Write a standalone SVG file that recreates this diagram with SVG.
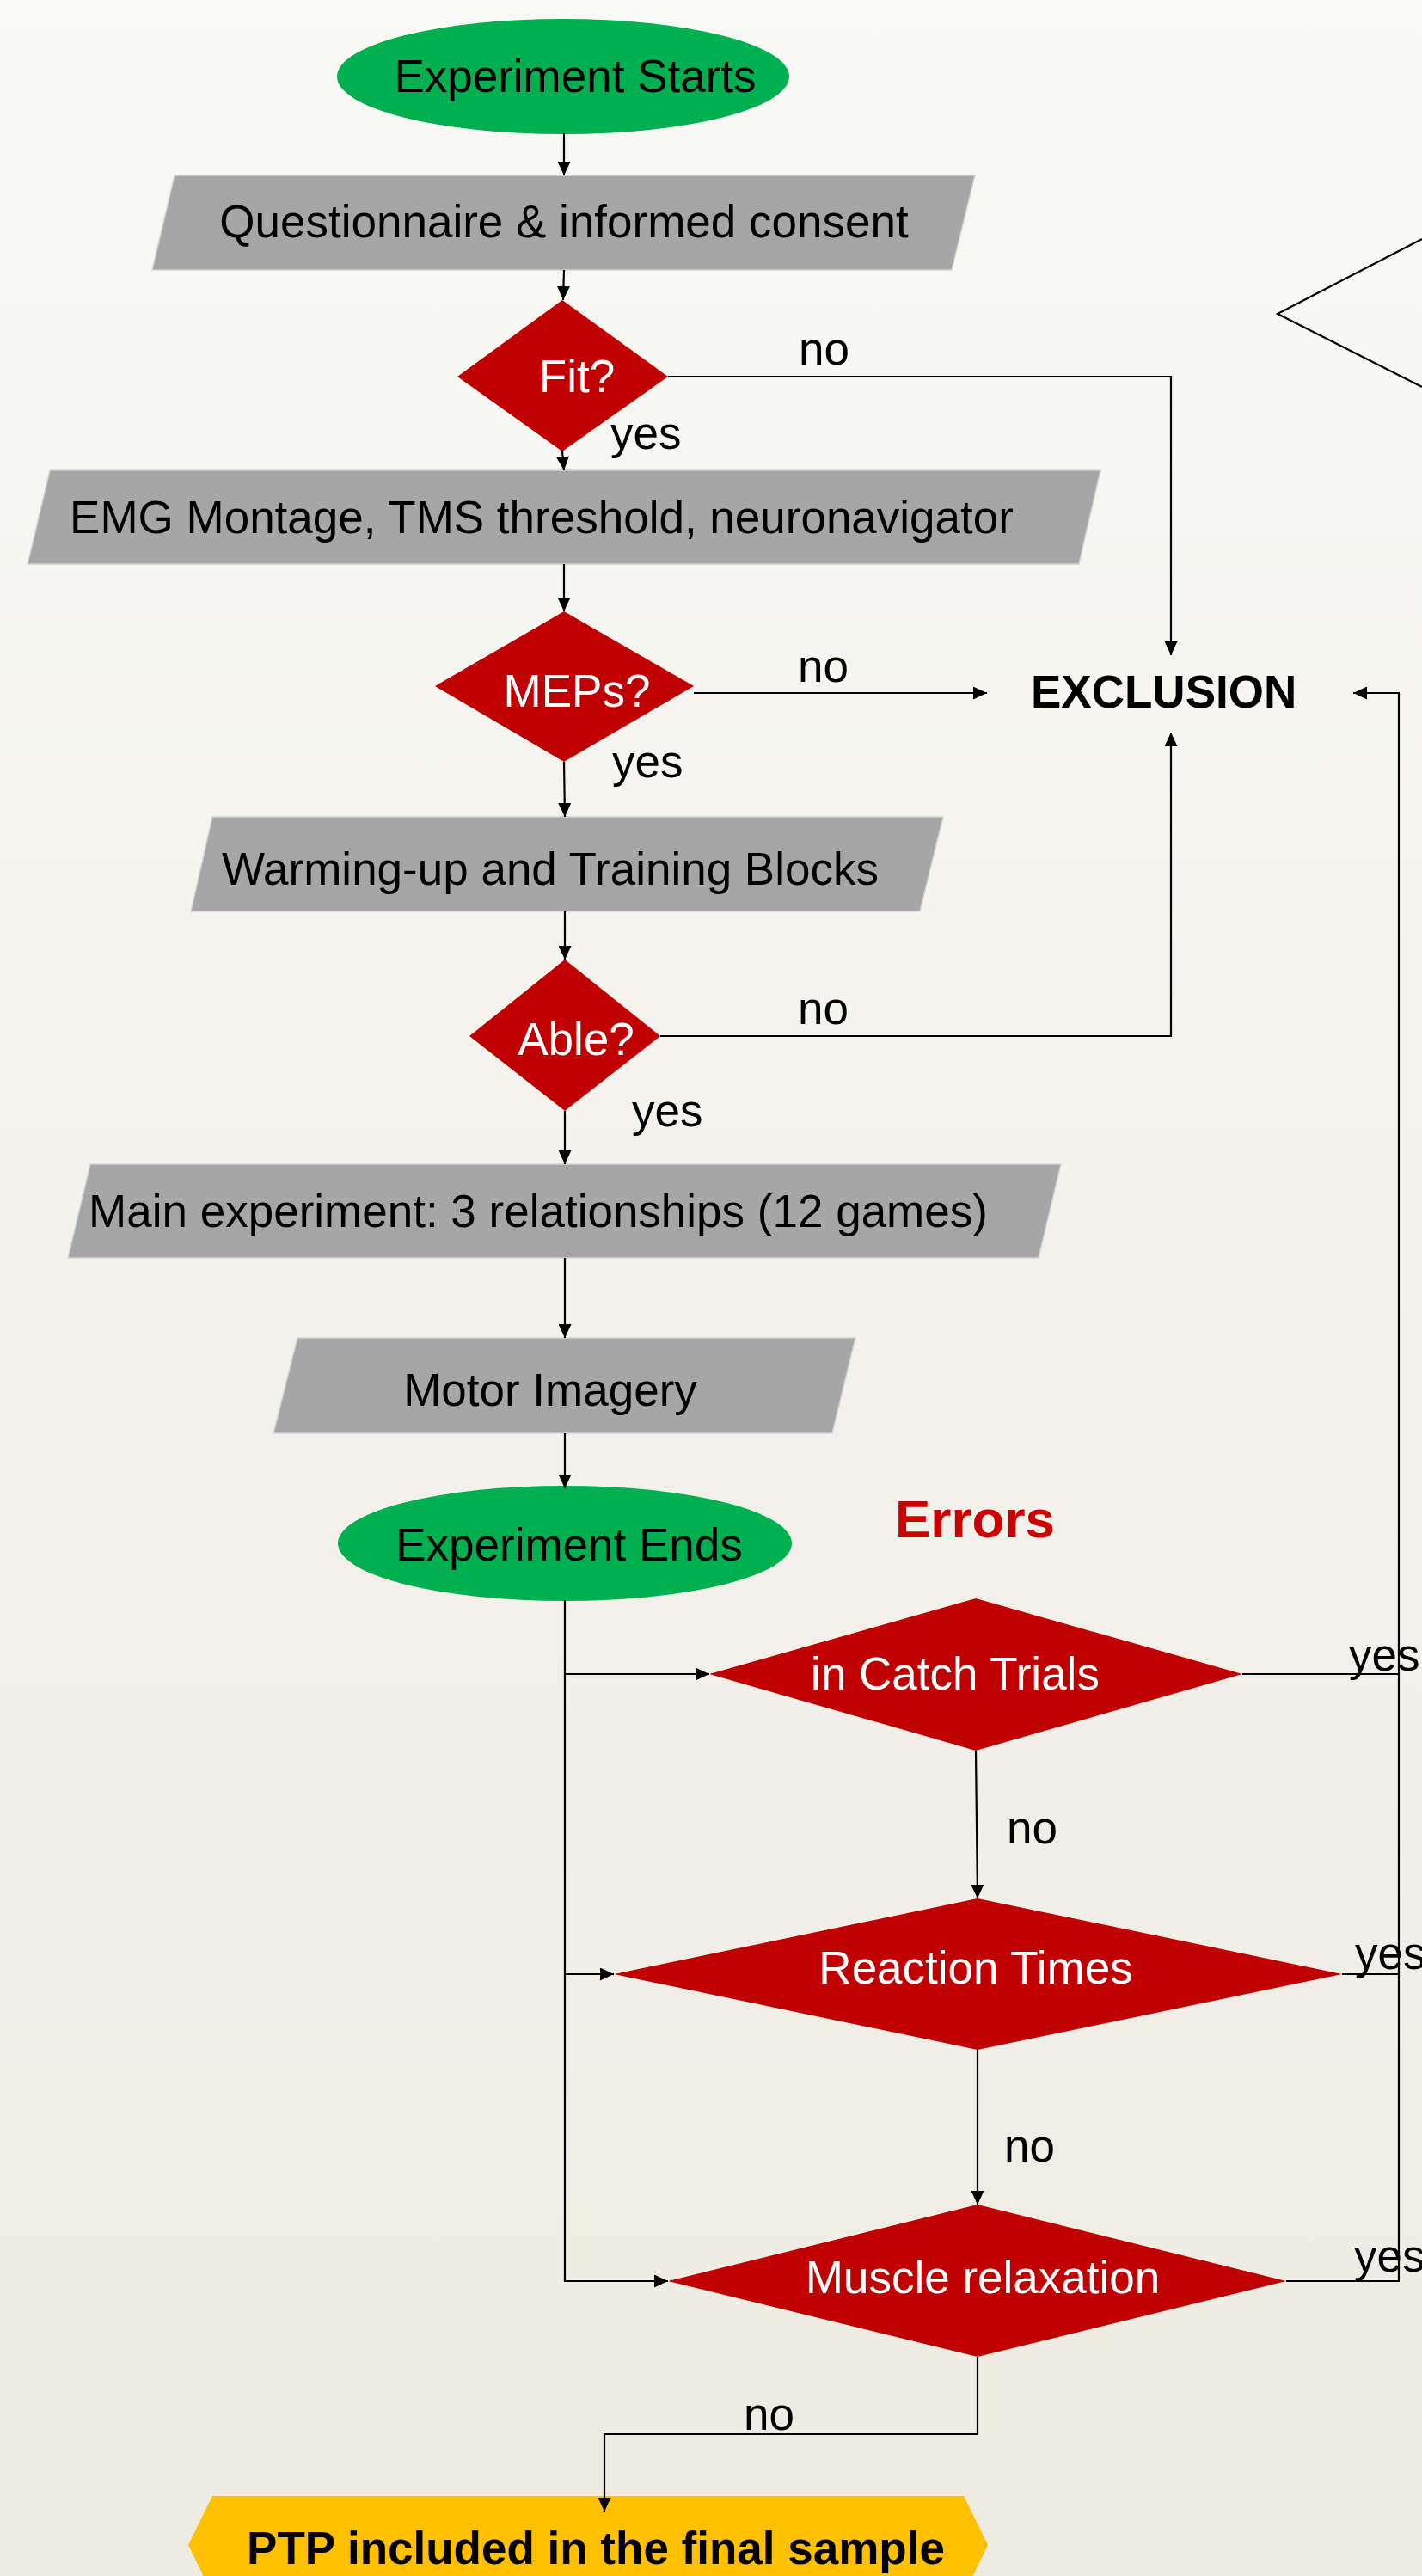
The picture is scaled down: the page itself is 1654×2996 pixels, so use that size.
<svg xmlns="http://www.w3.org/2000/svg" width="1654" height="2996" viewBox="0 0 1654 2996">
<defs>
<linearGradient id="bg" x1="0" y1="0" x2="0" y2="1">
<stop offset="0" stop-color="#F9F9F6"/>
<stop offset="1" stop-color="#EEEBE2"/>
</linearGradient>
<marker id="arr" markerUnits="userSpaceOnUse" markerWidth="17" markerHeight="15" refX="16" refY="7.5" orient="auto">
<path d="M0,0 L16,7.5 L0,15 z" fill="#000"/>
</marker>
</defs>
<style>
text{font-family:"Liberation Sans",Arial,sans-serif;font-size:53px;}
.blk{fill:#000;}
.wht{fill:#fff;}
.bold{font-weight:bold;}
.mid{text-anchor:middle;}
.para{fill:#A6A6A6;stroke:#D4D4D4;stroke-width:1.5;}
.dia{fill:#C00000;}
.term{fill:#00B050;}
.conn path,.conn line{fill:none;stroke:#000;stroke-width:2.2;}
.lbl{fill:#000;}
</style>
<rect x="0" y="0" width="1654" height="2996" fill="url(#bg)"/>
<polyline points="1654,278 1486,365 1654,450" fill="none" stroke="#000" stroke-width="2.2"/>

<g id="start">
<ellipse class="term" cx="655" cy="89" rx="263" ry="67"/>
<text class="blk mid" x="669" y="107">Experiment Starts</text>
</g>
<g id="questionnaire">
<polygon class="para" points="203,204 1134,204 1107,314 177,314"/>
<text class="blk mid" x="656" y="276">Questionnaire &amp; informed consent</text>
</g>
<g id="fit">
<polygon class="dia" points="654,349 777,438 654,525 532,438"/>
<text class="wht mid" x="671" y="456">Fit?</text>
</g>
<g id="emg">
<polygon class="para" points="58,547 1280,547 1255,656 32,656"/>
<text class="blk mid" x="630" y="620">EMG Montage, TMS threshold, neuronavigator</text>
</g>
<g id="meps">
<polygon class="dia" points="656,711 807,798 656,886 506,798"/>
<text class="wht mid" x="671" y="822">MEPs?</text>
</g>
<g id="exclusion">
<text class="blk bold" x="1199" y="823">EXCLUSION</text>
</g>
<g id="warming">
<polygon class="para" points="247,950 1097,950 1070,1060 222,1060"/>
<text class="blk mid" x="640" y="1029">Warming-up and Training Blocks</text>
</g>
<g id="able">
<polygon class="dia" points="657,1116 768,1205 657,1292 546,1205"/>
<text class="wht mid" x="670" y="1227">Able?</text>
</g>
<g id="main">
<polygon class="para" points="105,1354 1234,1354 1208,1463 79,1463"/>
<text class="blk mid" x="626" y="1427">Main experiment: 3 relationships (12 games)</text>
</g>
<g id="motor">
<polygon class="para" points="346,1556 995,1556 968,1667 318,1667"/>
<text class="blk mid" x="640" y="1635">Motor Imagery</text>
</g>
<g id="end">
<ellipse class="term" cx="657" cy="1795" rx="264" ry="67"/>
<text class="blk mid" x="662" y="1815">Experiment Ends</text>
</g>
<g id="errors">
<text class="bold mid" x="1134" y="1788" style="font-size:62px;fill:#CC0000">Errors</text>
</g>
<g id="catch">
<polygon class="dia" points="1135,1859 1445,1947 1135,2036 825,1947"/>
<text class="wht mid" x="1111" y="1965">in Catch Trials</text>
</g>
<g id="rt">
<polygon class="dia" points="1137,2208 1561,2296 1137,2384 714,2296"/>
<text class="wht mid" x="1135" y="2307">Reaction Times</text>
</g>
<g id="muscle">
<polygon class="dia" points="1137,2564 1496,2653 1137,2741 777,2653"/>
<text class="wht mid" x="1143" y="2667">Muscle relaxation</text>
</g>
<g id="ptp">
<polygon points="247,2903 1121,2903 1149,2960 1121,3017 247,3017 219,2960" fill="#FFC000"/>
<text class="blk bold mid" x="693" y="2982">PTP included in the final sample</text>
</g>

<g id="connectors" class="conn">
<path d="M656,155 V204" marker-end="url(#arr)"/>
<path d="M656,314 L655,349" marker-end="url(#arr)"/>
<path d="M777,438 H1362 V762" marker-end="url(#arr)"/>
<path d="M654,525 L656,547" marker-end="url(#arr)"/>
<path d="M656,656 V711" marker-end="url(#arr)"/>
<path d="M807,806 H1148" marker-end="url(#arr)"/>
<path d="M656,886 L657,950" marker-end="url(#arr)"/>
<path d="M657,1060 V1116" marker-end="url(#arr)"/>
<path d="M768,1205 H1362 V852" marker-end="url(#arr)"/>
<path d="M657,1292 V1354" marker-end="url(#arr)"/>
<path d="M657,1463 V1556" marker-end="url(#arr)"/>
<path d="M657,1667 V1731" marker-end="url(#arr)"/>
<path d="M657,1861 V2653 H777" marker-end="url(#arr)"/>
<path d="M657,1947 H825" marker-end="url(#arr)"/>
<path d="M657,2296 H714" marker-end="url(#arr)"/>
<path d="M1445,1947 H1627"/>
<path d="M1561,2296 H1627"/>
<path d="M1496,2653 H1627 V806 H1574" marker-end="url(#arr)"/>
<path d="M1135,2036 L1137,2208" marker-end="url(#arr)"/>
<path d="M1137,2384 V2564" marker-end="url(#arr)"/>
<path d="M1137,2741 V2831 H703 V2921" marker-end="url(#arr)"/>
</g>
<g id="labels">
<text class="lbl" x="929" y="424">no</text>
<text class="lbl" x="710" y="522">yes</text>
<text class="lbl" x="928" y="793">no</text>
<text class="lbl" x="712" y="904">yes</text>
<text class="lbl" x="928" y="1191">no</text>
<text class="lbl" x="735" y="1310">yes</text>
<text class="lbl" x="1569" y="1943">yes</text>
<text class="lbl" x="1171" y="2144">no</text>
<text class="lbl" x="1576" y="2290">yes</text>
<text class="lbl" x="1168" y="2514">no</text>
<text class="lbl" x="1575" y="2642">yes</text>
<text class="lbl" x="865" y="2826">no</text>
</g>
</svg>
